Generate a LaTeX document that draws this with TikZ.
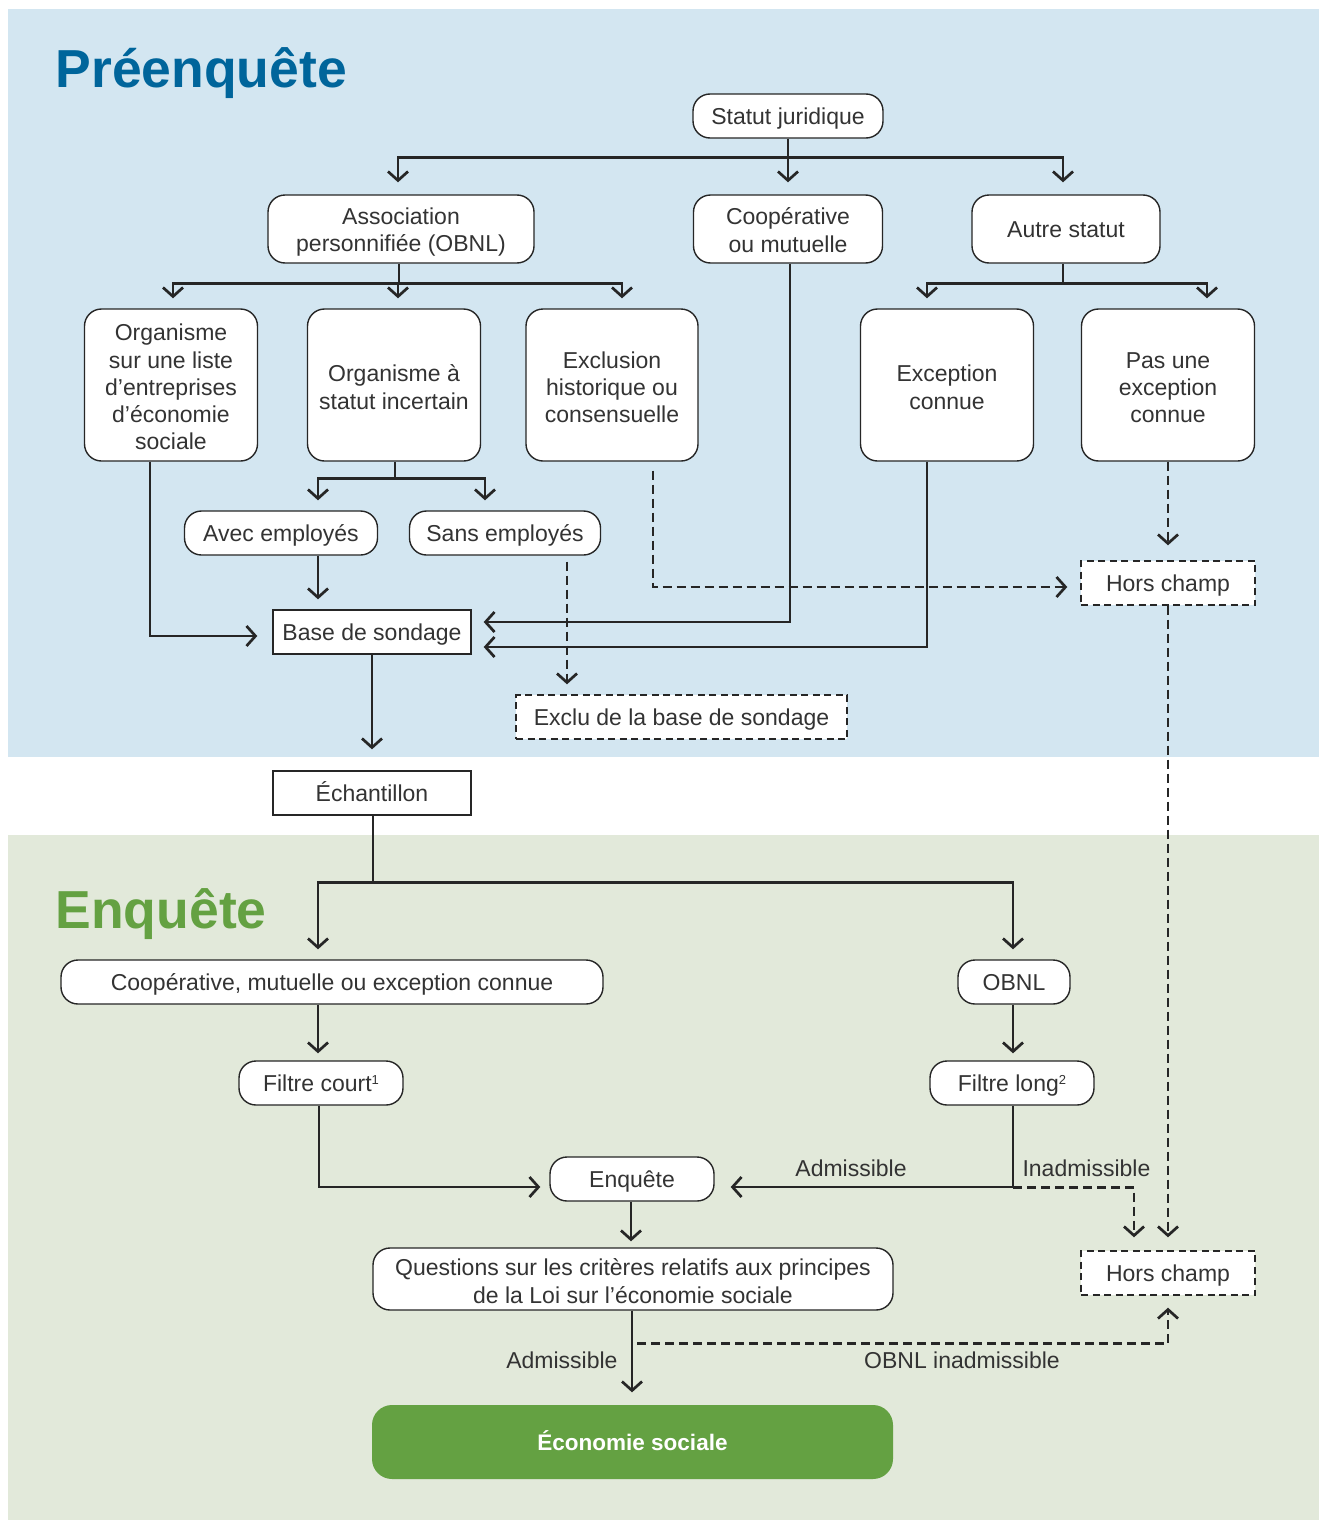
\documentclass[tikz,border=0pt]{standalone}
\usepackage{fontspec}
\setmainfont{Liberation Sans}
\usetikzlibrary{arrows.meta,calc}
\definecolor{bluebg}{HTML}{D3E6F1}
\definecolor{greenbg}{HTML}{E2E9DA}
\definecolor{titleblue}{HTML}{00659B}
\definecolor{titlegreen}{HTML}{64A142}
\definecolor{ink}{HTML}{262626}
\definecolor{txtc}{HTML}{333333}
\newcommand{\supnum}[1]{\raisebox{7pt}{\fontsize{13}{13}\selectfont #1}}
\newcommand{\firstup}[1]{\rule{0pt}{#1}}
\begin{document}
\begin{tikzpicture}[x=1pt,y=-1pt,
  txt/.style={font=\fontsize{23}{27.3}\selectfont, text=txtc},
  boxbase/.style={txt, draw=ink, fill=white, line width=1.4pt, align=center, inner sep=0pt},
  one/.style={text height=20pt, text depth=3pt},
  rbox/.style={boxbase, rounded corners=17pt},
  sbox/.style={boxbase},
  dbox/.style={boxbase, dash pattern=on 7pt off 4.5pt},
  ln/.style={draw=ink, line width=2.7pt},
  arr/.style={ln, -{Straight Barb[length=9pt,width=20pt]}, shorten >=10pt},
  darr/.style={arr, dash pattern=on 9pt off 5pt},
  lbl/.style={txt},
  ttl/.style={anchor=base west, font=\fontsize{53.5}{60}\selectfont\bfseries}
]
\useasboundingbox (0,0) rectangle (1319,1520);
\fill[bluebg] (8,9) rectangle (1319,757);
\fill[greenbg] (8,835) rectangle (1319,1520);

\node[ttl, text=titleblue] (t1) at (52,88) {Préenquête};
\node[ttl, text=titlegreen] (t2) at (52,928) {Enquête};

% nodes
\node[rbox, one, minimum width=190pt, minimum height=44pt] (sj) at (788,116) {Statut juridique};
\node[rbox, minimum width=266pt, minimum height=68pt] (assoc) at (401,229) {\firstup{23pt}Association\\personnifiée (OBNL)};
\node[rbox, minimum width=189pt, minimum height=68pt] (coop) at (788,229) {\firstup{19pt}Coopérative\\ou mutuelle};
\node[rbox, one, minimum width=188pt, minimum height=68pt] (autre) at (1066,229) {Autre statut};

\node[rbox, minimum width=173pt, minimum height=152pt] (org1) at (171,385) {\firstup{21pt}Organisme\\sur une liste\\d’entreprises\\d’économie\\sociale};
\node[rbox, minimum width=173pt, minimum height=152pt] (org2) at (394,385) {\firstup{21pt}Organisme à\\statut incertain};
\node[rbox, minimum width=172pt, minimum height=152pt] (org3) at (612,385) {\firstup{21pt}Exclusion\\historique ou\\consensuelle};
\node[rbox, minimum width=173pt, minimum height=152pt] (exc) at (947,385) {\firstup{21pt}Exception\\connue};
\node[rbox, minimum width=173pt, minimum height=152pt] (pas) at (1168,385) {\firstup{21pt}Pas une\\exception\\connue};

\node[rbox, one, minimum width=193pt, minimum height=44pt] (avec) at (281,533) {Avec employés};
\node[rbox, one, minimum width=191pt, minimum height=44pt] (sans) at (505,533) {Sans employés};
\node[dbox, one, minimum width=174pt, minimum height=44pt] (hc1) at (1168,583) {Hors champ};
\node[sbox, one, minimum width=198pt, minimum height=44pt] (base) at (372,632) {Base de sondage};
\node[dbox, one, minimum width=331pt, minimum height=44pt] (exclu) at (681.5,717) {Exclu de la base de sondage};
\node[sbox, one, minimum width=198pt, minimum height=44pt] (ech) at (372,793) {Échantillon};

\node[rbox, one, minimum width=542pt, minimum height=44pt] (cmec) at (332,982) {Coopérative, mutuelle ou exception connue};
\node[rbox, one, minimum width=112pt, minimum height=44pt] (obnl) at (1014,982) {OBNL};
\node[rbox, one, minimum width=164pt, minimum height=44pt] (fc) at (321,1083) {Filtre court\supnum{1}};
\node[rbox, one, minimum width=164pt, minimum height=44pt] (fl) at (1012,1083) {Filtre long\supnum{2}};
\node[rbox, one, minimum width=164pt, minimum height=44pt] (enq) at (632,1179) {Enquête};
\node[dbox, one, minimum width=174pt, minimum height=44pt] (hc2) at (1168,1273) {Hors champ};
\node[rbox, minimum width=520pt, minimum height=62pt] (q) at (633,1279) {\firstup{21pt}Questions sur les critères relatifs aux principes\\de la Loi sur l’économie sociale};
\node[boxbase, one, draw=none, fill=titlegreen, rounded corners=20pt, minimum width=521pt, minimum height=74pt, text=white, font=\fontsize{22.5}{26}\selectfont\bfseries] (eco) at (632.5,1442) {Économie sociale};

% connectors, top level
\coordinate (b1) at ($(sj.south)+(0,19)$);
\draw[ln] (sj.south) -- (b1);
\draw[arr, shorten >=12pt] (b1) -| ([xshift=-3pt]assoc.north);
\draw[arr, shorten >=12pt] (b1) -- (coop.north);
\draw[arr, shorten >=12pt] (b1) -| ([xshift=-3pt]autre.north);

\coordinate (b2) at ($(assoc.south)+(-2,20)$);
\draw[ln] ([xshift=-2pt]assoc.south) -- (b2);
\draw[arr] (b2) -| ([xshift=2pt]org1.north);
\draw[arr] (b2) -| ([xshift=4pt]org2.north);
\draw[arr] (b2) -| ([xshift=10pt]org3.north);

\coordinate (b3) at ($(autre.south)+(-3,20)$);
\draw[ln] ([xshift=-3pt]autre.south) -- (b3);
\draw[arr] (b3) -| ([xshift=-20pt]exc.north);
\draw[arr] (b3) -| ([xshift=39pt]pas.north);

\coordinate (b5) at ($(org2.south)+(1,17)$);
\draw[ln] ([xshift=1pt]org2.south) -- (b5);
\draw[arr] (b5) -| ([xshift=37pt]avec.north);
\draw[arr] (b5) -| ([xshift=-20pt]sans.north);

% into base de sondage
\draw[arr] ([xshift=37pt]avec.south) -- ([xshift=37pt]avec.south |- base.north);
\draw[arr, shorten >=15pt] ([xshift=-21pt]org1.south) |- ([yshift=-4pt]base.west);
\draw[arr, shorten >=12pt] ([xshift=2pt]coop.south) |- ([yshift=10pt]base.east);
\draw[arr, shorten >=12pt] ([xshift=-20pt]exc.south) |- ([yshift=-15pt]base.east);

% dashed exits
\draw[darr, shorten >=13pt] ([xshift=41pt,yshift=-9pt]org3.south) |- ([yshift=-4pt]hc1.west);
\draw[darr, shorten >=15pt] (pas.south) -- (hc1.north);
\draw[darr] ([xshift=62pt,yshift=-6pt]sans.south) -- ([xshift=62pt]sans.south |- exclu.north);

% base -> echantillon
\draw[arr, shorten >=21pt] (base.south) -- (ech.north);

% enquete part
\coordinate (b4) at ($(ech.south)+(1,67)$);
\draw[ln] ([xshift=1pt]ech.south) -- (b4);
\draw[arr] (b4) -| ([xshift=-3pt]fc.north |- cmec.north);
\draw[arr] (b4) -| ([xshift=-1pt]obnl.north);

\draw[arr, shorten >=7pt] ([xshift=-3pt]fc.north |- cmec.south) -- ([xshift=-3pt]fc.north);
\draw[arr, shorten >=7pt] ([xshift=-1pt]obnl.south) -- ([xshift=-1pt]obnl.south |- fl.north);

\draw[arr, shorten >=9pt] ([xshift=-2pt]fc.south) |- ([yshift=-8pt]enq.west);
\draw[arr, shorten >=16pt] ([xshift=1pt]fl.south) |- ([yshift=-8pt]enq.east);
\node[lbl, anchor=base] (adm1) at (851,1176) {Admissible};
\node[lbl, anchor=base west] (inadm) at (1019,1176) {Inadmissible};
\coordinate (b6) at ($(fl.south)+(1,82)$);
\draw[darr, shorten >=13pt] (b6) -| ([xshift=-34pt]hc2.north);
\draw[darr, shorten >=13pt] (hc1.south) -- (hc2.north);

\draw[arr, shorten >=6pt] ([xshift=-1pt]enq.south) -- ([xshift=-1pt]enq.south |- q.north);
\draw[arr, shorten >=12pt] ([xshift=-1pt]q.south) -- ([xshift=-1pt]q.south |- eco.north);
\node[lbl, anchor=base east] (adm2) at (621,1368) {Admissible};
\coordinate (b7) at ($(q.south)+(4,33)$);
\draw[darr, shorten >=12pt] (b7) -| (hc2.south);
\node[lbl, anchor=base] (obi) at (962,1368) {OBNL inadmissible};
\end{tikzpicture}
\end{document}
